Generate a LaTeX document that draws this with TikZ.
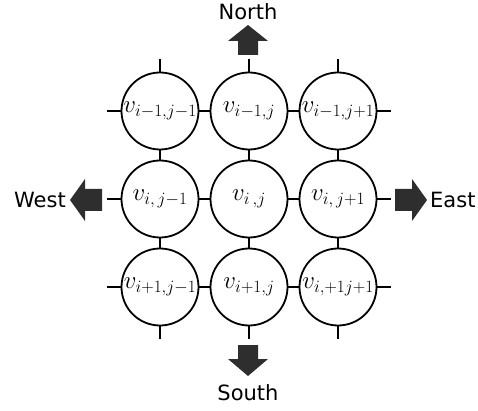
\documentclass[tikz,border=0pt]{standalone}
\usepackage{fontspec}
\setmainfont{DejaVu Sans}
\begin{document}
\begin{tikzpicture}[x=1pt,y=-1pt,
  cell/.style={circle,draw,line width=1.8pt,minimum size=77pt,inner sep=0pt,font=\fontsize{25}{28}\selectfont},
  link/.style={line width=1.8pt},
  dirarrow/.style={fill=black!82},
  dirlabel/.style={inner sep=0pt,font=\fontsize{21}{24}\selectfont}]
\useasboundingbox (0,0) rectangle (478,411);
\node[cell] (c11) at (160,111) {$v_{i-1,j-1}$};
\node[cell] (c12) at (249,111) {$v_{i-1,j}$};
\node[cell] (c13) at (338,111) {$v_{i-1,j+1}$};
\node[cell] (c21) at (160,199) {$v_{i,\,j-1}$};
\node[cell] (c22) at (249,199) {$v_{i\,,j}$};
\node[cell] (c23) at (338,199) {$v_{i,\,j+1}$};
\node[cell] (c31) at (160,287) {$v_{i+1,j-1}$};
\node[cell] (c32) at (249,287) {$v_{i+1,j}$};
\node[cell] (c33) at (338,287) {$v_{i,+1j+1}$};
% inner links
\foreach \r in {1,2,3}{
  \draw[link] (c\r1) -- (c\r2);
  \draw[link] (c\r2) -- (c\r3);
}
\foreach \c in {1,2,3}{
  \draw[link] (c1\c) -- (c2\c);
  \draw[link] (c2\c) -- (c3\c);
  \draw[link] (c1\c.north) -- ++(0,-13);
  \draw[link] (c3\c.south) -- ++(0,13);
}
\foreach \r in {1,2,3}{
  \draw[link] (c\r1.west) -- ++(-14,0);
  \draw[link] (c\r3.east) -- ++(14,0);
}
% arrows
\coordinate (nt) at (248,25);
\fill[dirarrow] (nt) -- ++(20,16) -- ++(-10,0) -- ++(0,14) -- ++(-20,0) -- ++(0,-14) -- ++(-10,0) -- cycle;
\coordinate (st) at (248,376);
\fill[dirarrow] (st) -- ++(20,-17) -- ++(-10,0) -- ++(0,-14) -- ++(-20,0) -- ++(0,14) -- ++(-10,0) -- cycle;
\coordinate (wt) at (70,200);
\fill[dirarrow] (wt) -- ++(15,-21) -- ++(0,10) -- ++(17,0) -- ++(0,22) -- ++(-17,0) -- ++(0,10) -- cycle;
\coordinate (et) at (427,200);
\fill[dirarrow] (et) -- ++(-15,-21) -- ++(0,10) -- ++(-17,0) -- ++(0,22) -- ++(17,0) -- ++(0,10) -- cycle;
% labels
\node[dirlabel] (north) at (248,12) {North};
\node[dirlabel] (south) at (248,393) {South};
\node[dirlabel,anchor=east] (west) at (66,200) {West};
\node[dirlabel,anchor=west] (east) at (430,200) {East};
\end{tikzpicture}
\end{document}
